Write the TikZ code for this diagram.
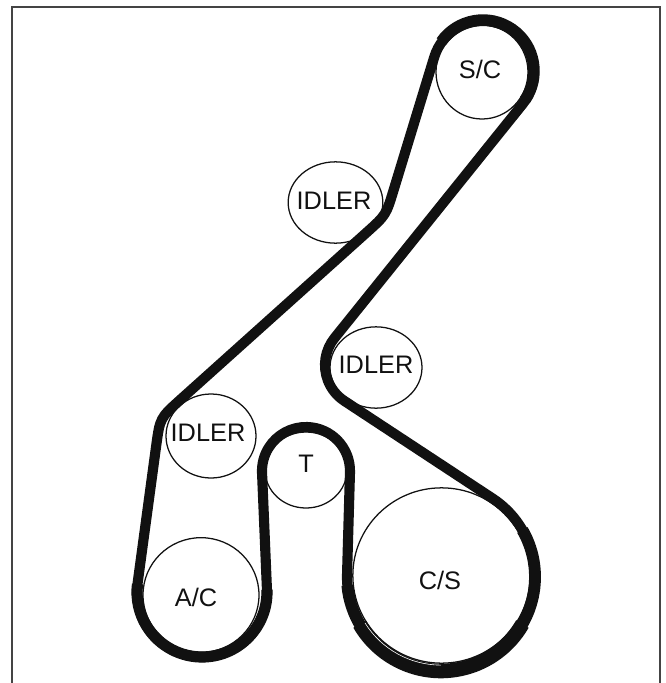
\documentclass[tikz,border=0pt]{standalone}
\usepackage{fontspec}
\setmainfont{Liberation Sans}
\usetikzlibrary{shapes.geometric}
\definecolor{framegray}{HTML}{444444}
\definecolor{ink}{HTML}{111111}
\tikzset{
  pulley/.style={draw=ink,line width=0.95pt,ellipse,inner sep=0pt,fill=none},
  plabel/.style={inner sep=0pt,text=ink,font=\fontsize{19}{19}\selectfont},
  beltline/.style={draw=ink,line width=7.6pt,line join=round},
  beltthick/.style={draw=ink,line width=#1,line cap=butt},
  framelines/.style={draw=framegray,line width=1.6pt},
}
\begin{document}
\begin{tikzpicture}[x=0.75pt,y=-0.75pt]
\useasboundingbox (0,0) rectangle (666,683);
% frame
\coordinate (fbl) at (12,683);
\coordinate (ftl) at (12,7);
\coordinate (ftr) at (660,7);
\coordinate (fbr) at (660,683);
\draw[framelines] (fbl) -- (ftl) -- (ftr) -- (fbr);
% pulleys
\node[pulley,minimum width=69pt,minimum height=70.5pt] (sc) at (482,72) {};
\node[pulley,minimum width=71pt,minimum height=61pt] (id1) at (335.5,202.5) {};
\node[pulley,minimum width=69pt,minimum height=61pt] (id2) at (376,367.5) {};
\node[pulley,minimum width=67.5pt,minimum height=63pt] (id3) at (211,436) {};
\node[pulley,minimum width=61.5pt,minimum height=57pt] (tp) at (306,470) {};
\node[pulley,minimum width=87pt,minimum height=86pt] (ac) at (201,595) {};
\node[pulley,minimum width=133pt,minimum height=131.5pt] (cs) at (441.5,575.5) {};
% wrap centres
\coordinate (cA) at (483,72);
\coordinate (cB) at (368,365);
\coordinate (cC) at (441,577);
\coordinate (cD) at (306,471);
\coordinate (cE) at (202,592);
\coordinate (vF) at (160,418);
\coordinate (vG) at (386,215);
% belt
\draw[beltline]
  ([shift={(196.9:51)}]cA) arc[start angle=196.9,end angle=398.8,radius=51]
  -- ([shift={(218.8:43)}]cB) arc[start angle=218.8,end angle=123.3,radius=43]
  -- ([shift={(-56.7:94)}]cC) arc[start angle=-56.7,end angle=181.6,radius=94]
  -- ([shift={(1.6:44)}]cD) arc[start angle=1.6,end angle=-182.4,radius=44]
  -- ([shift={(-2.4:65)}]cE) arc[start angle=-2.4,end angle=187.7,radius=65]
  -- (156.2,445.7) .. controls (vF) .. (180.8,399.3)
  -- (366.7,232.4) .. controls (vG) .. (393.6,190.1)
  -- cycle;
% thicker stretches of the belt
\draw[beltthick=8.6pt] ([shift={(215:51)}]483,71) arc[start angle=215,end angle=395,radius=51];
\draw[beltthick=8.9pt] ([shift={(-30:94)}]cC) arc[start angle=-30,end angle=175,radius=94];
\draw[beltthick=10.9pt] ([shift={(30:94)}]cC) arc[start angle=30,end angle=150,radius=94];
\draw[beltthick=8.4pt] ([shift={(-2:65)}]cE) arc[start angle=-2,end angle=187,radius=65];
% white streak between crank pulley and belt
\draw[white,line width=0.45pt] ([shift={(90:89.6)}]441,575.5) arc[start angle=90,end angle=148,radius=89.6];
% labels
\node[plabel] (lsc) at (480,69) {S/C};
\node[plabel] (lid1) at (334,201) {IDLER};
\node[plabel] (lid2) at (376,365) {IDLER};
\node[plabel] (lid3) at (208,433) {IDLER};
\node[plabel] (lt) at (306,464) {T};
\node[plabel] (lac) at (196,597) {A/C};
\node[plabel] (lcs) at (440,580) {C/S};
\end{tikzpicture}
\end{document}
